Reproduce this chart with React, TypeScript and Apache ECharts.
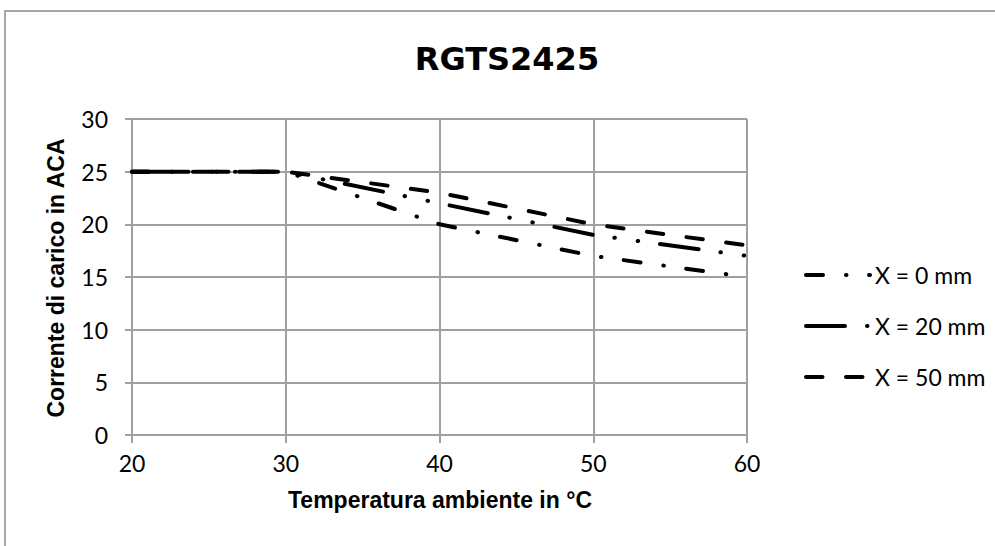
import React, { useEffect, useRef } from "react";
import * as echarts from "echarts";

const temperatures = [20, 30, 40, 50, 60];
const currentX0 = [25, 25, 20, 17, 15];
const currentX20 = [25, 25, 22, 19, 17];
const currentX50 = [25, 25, 23, 20, 18];
const seriesNames = ["X = 0 mm", "X = 20 mm", "X = 50 mm"];
const titleText = "RGTS2425";
const xAxisTitle = "Temperatura ambiente in °C";
const yAxisTitle = "Corrente di carico in ACA";

export default function App() {
  const ref = useRef<HTMLDivElement>(null);
  useEffect(() => {
    if (!ref.current) return;
    const chart = echarts.init(ref.current, null, { renderer: "svg" });
    const pair = (vals: number[]) => temperatures.map((t, i) => [t, vals[i]]);
    const lineBase = { width: 4, color: "#000", cap: "round", join: "round" };
    const labelFont = { fontFamily: "Lato", fontSize: 23, color: "#000" };
    chart.setOption({
      animation: false,
      backgroundColor: "#fff",
      color: ["#000", "#000", "#000"],
      grid: { left: 132, top: 119, right: 248, bottom: 111, containLabel: false },
      xAxis: {
        type: "value",
        min: 20,
        max: 60,
        interval: 10,
        axisLine: { show: true, lineStyle: { color: "#a0a0a0", width: 2 } },
        axisTick: { show: true, length: 8, lineStyle: { color: "#a0a0a0", width: 2 } },
        splitLine: { show: true, lineStyle: { color: "#a0a0a0", width: 2 } },
        axisLabel: { ...labelFont, margin: 16 },
      },
      yAxis: {
        type: "value",
        min: 0,
        max: 30,
        interval: 5,
        axisLine: { show: true, lineStyle: { color: "#a0a0a0", width: 2 } },
        axisTick: { show: true, length: 7, lineStyle: { color: "#a0a0a0", width: 2 } },
        splitLine: { show: true, lineStyle: { color: "#a0a0a0", width: 2 } },
        axisLabel: { ...labelFont, margin: 24 },
      },
      legend: {
        orient: "vertical",
        left: 799,
        top: 257,
        itemWidth: 64,
        itemHeight: 14,
        itemGap: 25,
        itemStyle: { opacity: 0 },
        lineStyle: { width: 4, cap: "round", color: "#000" },
        textStyle: { ...labelFont, lineHeight: 26 },
        data: seriesNames,
      },
      series: [
        {
          name: seriesNames[0],
          type: "line",
          data: pair(currentX0),
          symbol: "none",
          itemStyle: { color: "#000" },
          lineStyle: { ...lineBase, type: [17, 23, 0.5, 22.5] },
        },
        {
          name: seriesNames[1],
          type: "line",
          data: pair(currentX20),
          symbol: "none",
          itemStyle: { color: "#000" },
          lineStyle: { ...lineBase, type: [39, 22, 0.5, 23, 0.5, 22] },
        },
        {
          name: seriesNames[2],
          type: "line",
          data: pair(currentX50),
          symbol: "none",
          itemStyle: { color: "#000" },
          lineStyle: { ...lineBase, type: [16.5, 23.5] },
        },
      ],
      graphic: [
        {
          type: "rect",
          shape: { x: 5, y: 11, width: 1200, height: 800 },
          style: { fill: "none", stroke: "#8a8a8a", lineWidth: 1.5 },
          silent: true,
          z: -1,
        },
        {
          type: "text",
          x: 507,
          y: 59,
          style: {
            text: titleText,
            fontFamily: "DejaVu Sans",
            fontWeight: "bold",
            fontSize: 32,
            fill: "#000",
            textAlign: "center",
            textVerticalAlign: "middle",
          },
        },
        {
          type: "text",
          x: 440,
          y: 500,
          style: {
            text: xAxisTitle,
            fontFamily: "Liberation Sans",
            fontWeight: "bold",
            fontSize: 23,
            fill: "#000",
            textAlign: "center",
            textVerticalAlign: "middle",
          },
        },
        {
          type: "text",
          x: 56,
          y: 278,
          rotation: Math.PI / 2,
          style: {
            text: yAxisTitle,
            fontFamily: "Liberation Sans",
            fontWeight: "bold",
            fontSize: 23,
            fill: "#000",
            textAlign: "center",
            textVerticalAlign: "middle",
          },
        },
      ],
    });
    return () => chart.dispose();
  }, []);
  return (
    <div
      ref={ref}
      style={{ position: "absolute", left: 0, top: 0, width: 995, height: 546 }}
    />
  );
}
